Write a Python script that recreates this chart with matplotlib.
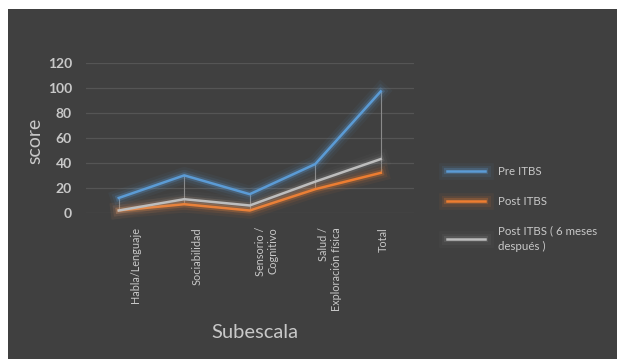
import matplotlib
matplotlib.use("Agg")
import matplotlib.pyplot as plt
import matplotlib.patheffects as pe
import matplotlib.transforms as mtransforms
from matplotlib.patches import Rectangle
import numpy as np

categories = ["Habla/Lenguaje", "Sociabilidad", "Sensorio /\nCognitivo",
              "Salud /\nExploración física", "Total"]
pre_itbs = [12, 30, 15, 39, 97]
post_itbs = [2, 7, 2, 19, 32]
post_6m = [2, 11, 6, 25, 43]
series_labels = ["Pre ITBS", "Post ITBS", "Post ITBS ( 6 meses\ndespués )"]
y_ticks = [0, 20, 40, 60, 80, 100, 120]

plt.rcParams["font.family"] = ["Lato", "DejaVu Sans"]
bg = "#404040"
txt = "#c8c8c8"

fig = plt.figure(figsize=(6.17, 3.59), dpi=100, facecolor="white")
# dark slide background (white strip on the top and left edges)
fig.patches.append(Rectangle((8 / 617, 0), 1, 1 - 9 / 359, transform=fig.transFigure,
                             facecolor=bg, edgecolor="none", zorder=-10))

ax = fig.add_axes([86 / 617, 146 / 359, 327.5 / 617, 150.5 / 359])
ax.set_facecolor("none")
x = np.arange(len(categories))

# high-low lines
all_vals = np.array([pre_itbs, post_itbs, post_6m])
ax.vlines(x, all_vals.min(axis=0), all_vals.max(axis=0), color="#8a8a8a", lw=0.8, zorder=2)

def glow(color, strength):
    return [pe.Stroke(linewidth=12, foreground=color, alpha=0.06 * strength),
            pe.Stroke(linewidth=8, foreground=color, alpha=0.1 * strength),
            pe.Stroke(linewidth=4.5, foreground=color, alpha=0.25 * strength),
            pe.Normal()]

l1, = ax.plot(x, pre_itbs, color="#5b9bd5", lw=1.8, label=series_labels[0],
              path_effects=glow("#5b9bd5", 1.0), zorder=4, clip_on=False)
l2, = ax.plot(x, post_itbs, color="#ed7d31", lw=1.8, label=series_labels[1],
              path_effects=glow("#ed7d31", 1.0), zorder=3, clip_on=False)
l3, = ax.plot(x, post_6m, color="#bdbdbd", lw=1.8, label=series_labels[2],
              path_effects=glow("#bdbdbd", 0.5), zorder=3.5, clip_on=False)

ax.set_xlim(-0.5, len(categories) - 0.5)
ax.set_ylim(0, 120)
ax.set_yticks(y_ticks)
ax.grid(axis="y", color="#555555", lw=0.9)
ax.set_axisbelow(True)
for s in ax.spines.values():
    s.set_visible(False)
ax.tick_params(axis="y", length=0, pad=10, labelsize=10, labelcolor=txt)
ax.tick_params(axis="x", length=0, pad=10)
for lab in ax.get_yticklabels():
    lab.set_fontweight("bold")
ax.set_xticks(x)
ax.set_xticklabels(categories, rotation=90, fontsize=7.8, color=txt,
                   va="top", ha="center", ma="right")
# Excel shifts the rotated category labels a little to the right
shift_px = [17, 13, 17, 15, 3]
for lab, dx in zip(ax.get_xticklabels(), shift_px):
    lab.set_transform(lab.get_transform() +
                      mtransforms.ScaledTranslation(dx / 100, 0, fig.dpi_scale_trans))

fig.text(35 / 617, 1 - 141 / 359, "score", rotation=90, color=txt, fontsize=14,
         ha="center", va="center")
fig.text(255 / 617, 1 - 333 / 359, "Subescala", color=txt, fontsize=14.5,
         ha="center", va="center")

leg = fig.legend(handles=[l1, l2, l3], loc="upper left",
                 bbox_to_anchor=(437 / 617, 1 - 156 / 359), frameon=False,
                 fontsize=8.3, labelcolor=txt, handlelength=3.3, handletextpad=1.1,
                 labelspacing=1.6)
for t in leg.get_texts():
    t.set_linespacing(1.5)

plt.savefig("out.png", dpi=100, facecolor="white")
